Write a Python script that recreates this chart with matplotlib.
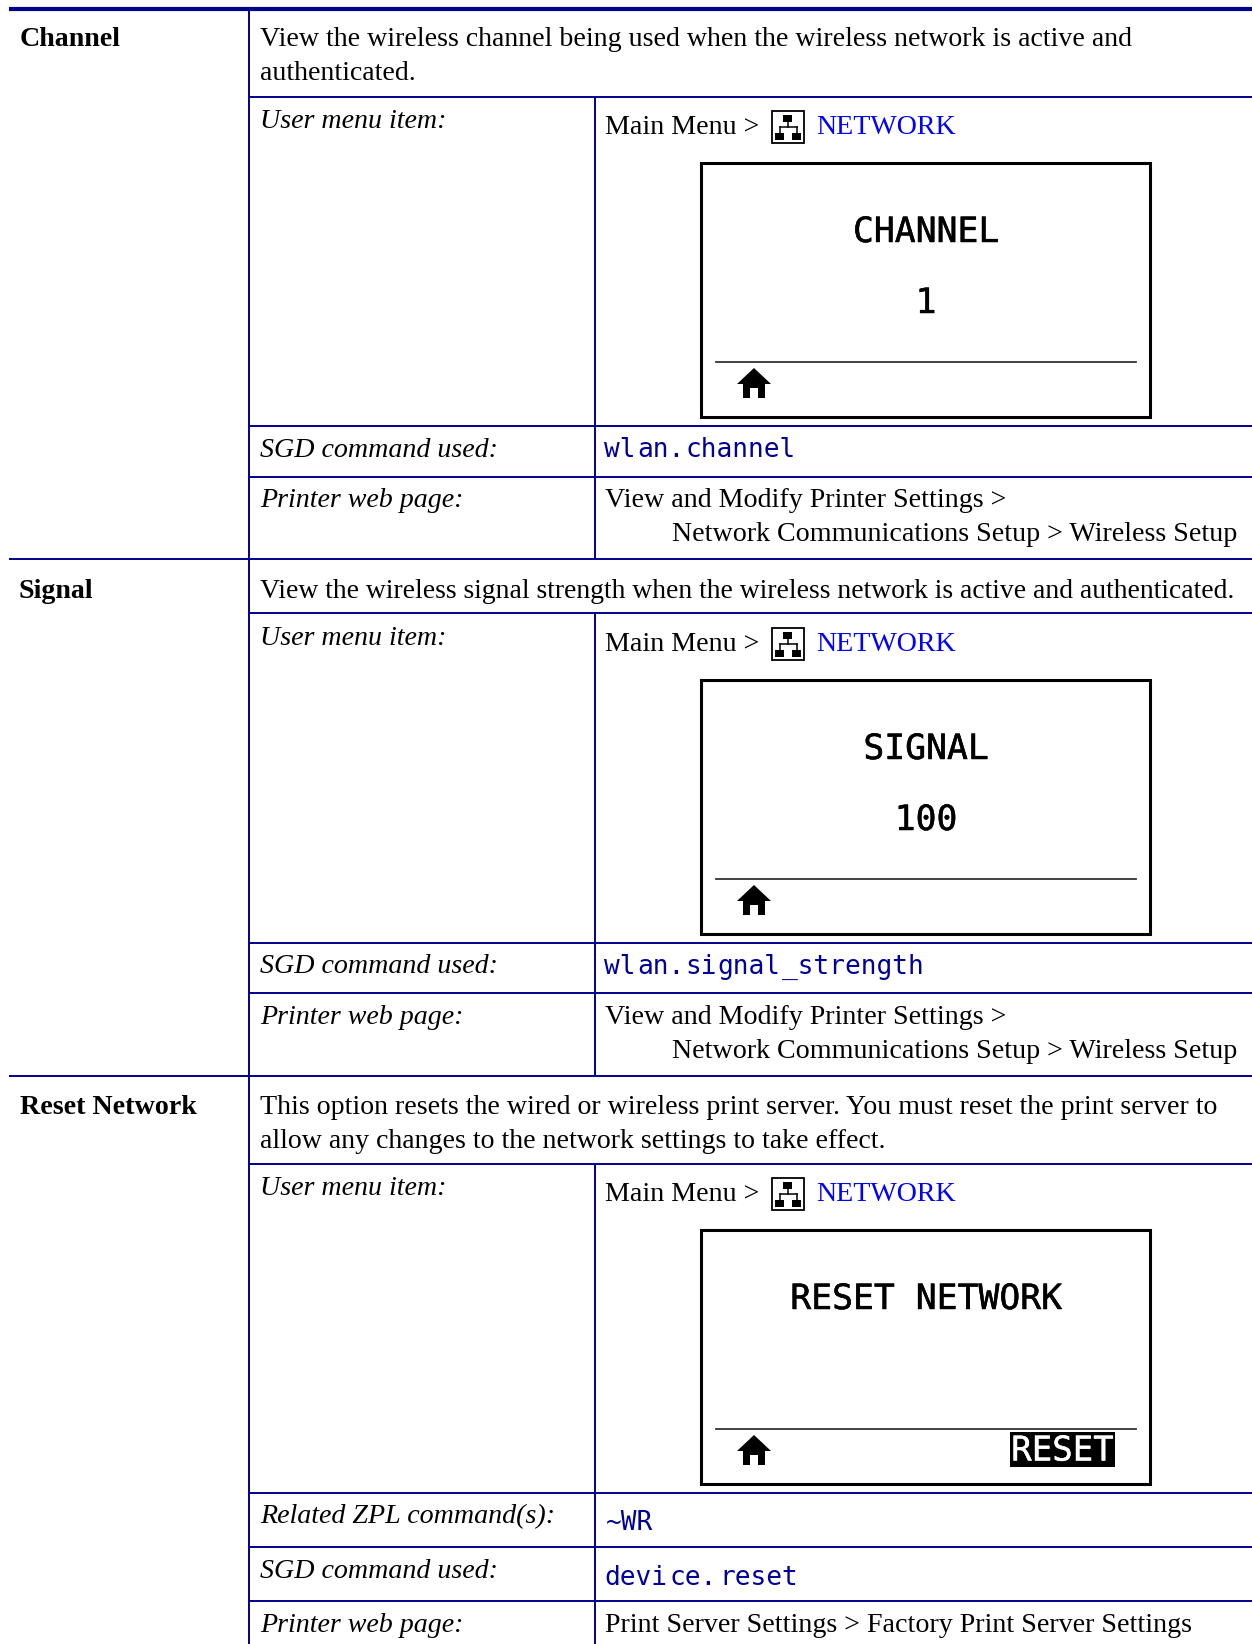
import matplotlib
matplotlib.use('Agg')
import matplotlib.pyplot as plt
import matplotlib.patheffects as pe
from matplotlib.patches import Rectangle, Polygon

W, H = 1252, 1644
NAVY = '#00008b'
LINK = '#0000ff'
CODE = '#00009a'
SERIF = 'Liberation Serif'
MONO = 'DejaVu Sans Mono'

# text of the table
section_names = ['Channel', 'Signal', 'Reset Network']
section_x = [20, 19, 20]
section_y = [46, 598, 1114]

desc_lines = [
    'View the wireless channel being used when the wireless network is active and',
    'authenticated.',
    'View the wireless signal strength when the wireless network is active and authenticated.',
    'This option resets the wired or wireless print server. You must reset the print server to',
    'allow any changes to the network settings to take effect.',
]
desc_y = [46, 80, 598, 1114, 1148]
desc_size = [20.1, 20.1, 19.87, 20.12, 20.1]

row_labels = ['User menu item:', 'SGD command used:', 'Printer web page:',
              'User menu item:', 'SGD command used:', 'Printer web page:',
              'User menu item:', 'Related ZPL command(s):', 'SGD command used:', 'Printer web page:']
row_label_y = [128, 457, 507, 645, 973, 1024, 1195, 1523, 1578, 1632]

menu_y = [134, 651, 1201]

# the code lines are set with gaps in the original, so they go in pieces
code_parts = ['wl', 'an.', 'channel',
              'wl', 'an.', 'si', 'gnal', '_strength',
              '~WR',
              'devi', 'ce.', 'reset']
code_x = [604, 637, 685,
          604, 637, 685, 717, 782,
          606,
          604, 669, 719]
code_y = [457, 457, 457,
          974, 974, 974, 974, 974,
          1530,
          1585, 1585, 1585]

web_lines = ['View and Modify Printer Settings >', 'Network Communications Setup > Wireless Setup',
             'View and Modify Printer Settings >', 'Network Communications Setup > Wireless Setup',
             'Print Server Settings > Factory Print Server Settings']
web_x = [605, 672, 605, 672, 605]
web_y = [507, 541, 1024, 1058, 1632]

# table rules
full_rules = [559, 1076]
right_rules = [97, 426, 477, 613, 943, 993, 1164, 1493, 1547, 1601]
col_lines = [(249, 9, 1644), (595, 97, 559), (595, 613, 1076), (595, 1164, 1644)]

# printer screens
lcd_top = [163, 680, 1230]
lcd_bottom = [417, 934, 1484]
lcd_rule = [362, 879, 1429]
lcd_title = ['CHANNEL', 'SIGNAL', 'RESET NETWORK']
lcd_title_y = [232, 749, 1299]
lcd_value = ['1', '100', '']
lcd_value_y = [303, 820, 0]

thick = [pe.withStroke(linewidth=0.35, foreground='black')]
thick_w = [pe.withStroke(linewidth=0.3, foreground='white')]


def net_icon(ax, y):
    # small network symbol in front of NETWORK, y is the icon top
    ax.add_patch(Rectangle((771.5, y), 32, 32, fc='white', ec='black', lw=1.3))
    ax.add_patch(Rectangle((783, y + 4), 9, 7, fc='black', ec='none'))
    ax.add_patch(Rectangle((775, y + 22), 9, 7, fc='black', ec='none'))
    ax.add_patch(Rectangle((792, y + 22), 9, 7, fc='black', ec='none'))
    ax.plot([787.5, 787.5], [y + 11, y + 16], color='black', lw=1.1)
    ax.plot([779.5, 796.5], [y + 16, y + 16], color='black', lw=1.1)
    ax.plot([779.5, 779.5], [y + 16, y + 22], color='black', lw=1.1)
    ax.plot([796.5, 796.5], [y + 16, y + 22], color='black', lw=1.1)


def home_icon(ax, y):
    # house symbol, y is the vertical centre
    x = 754
    ax.add_patch(Polygon([(x - 17, y + 1), (x, y - 15), (x + 17, y + 1), (x + 11, y + 1),
                          (x + 11, y + 15), (x + 4, y + 15), (x + 4, y + 5), (x - 4, y + 5),
                          (x - 4, y + 15), (x - 11, y + 15), (x - 11, y + 1)],
                         fc='black', ec='none'))


fig = plt.figure(figsize=(W / 100, H / 100), dpi=100)
ax = fig.add_axes([0, 0, 1, 1])
ax.set_xlim(0, W)
ax.set_ylim(H, 0)
ax.axis('off')

# rules
ax.plot([9, W], [9, 9], color=NAVY, lw=3, solid_capstyle='butt')
for y in full_rules:
    ax.plot([9, W], [y, y], color=NAVY, lw=1.4, solid_capstyle='butt')
for y in right_rules:
    ax.plot([249, W], [y, y], color=NAVY, lw=1.4, solid_capstyle='butt')
for x, y0, y1 in col_lines:
    ax.plot([x, x], [y0, y1], color=NAVY, lw=1.4, solid_capstyle='butt')

BODY = 20.15

for name, x, y in zip(section_names, section_x, section_y):
    ax.text(x, y, name, family=SERIF, weight='bold', fontsize=BODY, va='baseline')
for line, y, size in zip(desc_lines, desc_y, desc_size):
    ax.text(260, y, line, family=SERIF, fontsize=size, va='baseline')
for label, y in zip(row_labels, row_label_y):
    ax.text(260, y, label, family=SERIF, style='italic', fontsize=BODY, va='baseline')
for line, x, y in zip(web_lines, web_x, web_y):
    ax.text(x, y, line, family=SERIF, fontsize=BODY, va='baseline')
for t, x, y in zip(code_parts, code_x, code_y):
    ax.text(x, y, t, family=MONO, color=CODE, fontsize=18.8, va='baseline')

for y in menu_y:
    ax.text(605, y, 'Main Menu >', family=SERIF, fontsize=BODY, va='baseline')
    net_icon(ax, y - 23)
    ax.text(816, y, 'NETWORK', family=SERIF, color=LINK, fontsize=BODY, va='baseline')

for i in range(3):
    ax.add_patch(Rectangle((701, lcd_top[i]), 449, lcd_bottom[i] - lcd_top[i],
                           fc='white', ec='black', lw=2.2))
    ax.plot([716, 1136], [lcd_rule[i], lcd_rule[i]], color='#333333', lw=1.3)
    home_icon(ax, lcd_rule[i] + 21)
    ax.text(926, lcd_title_y[i], lcd_title[i], family=MONO, fontsize=25,
            ha='center', va='center', path_effects=thick)
    if lcd_value[i]:
        ax.text(926, lcd_value_y[i], lcd_value[i], family=MONO, fontsize=25,
                ha='center', va='center', path_effects=thick)

# softkey on the reset screen
ax.add_patch(Rectangle((1010, 1432), 105, 35, fc='black', ec='none'))
ax.text(1062.5, 1451, 'RESET', family=MONO, color='white', fontsize=24.5,
        ha='center', va='center', path_effects=thick_w)

fig.savefig('out.png', dpi=100)
